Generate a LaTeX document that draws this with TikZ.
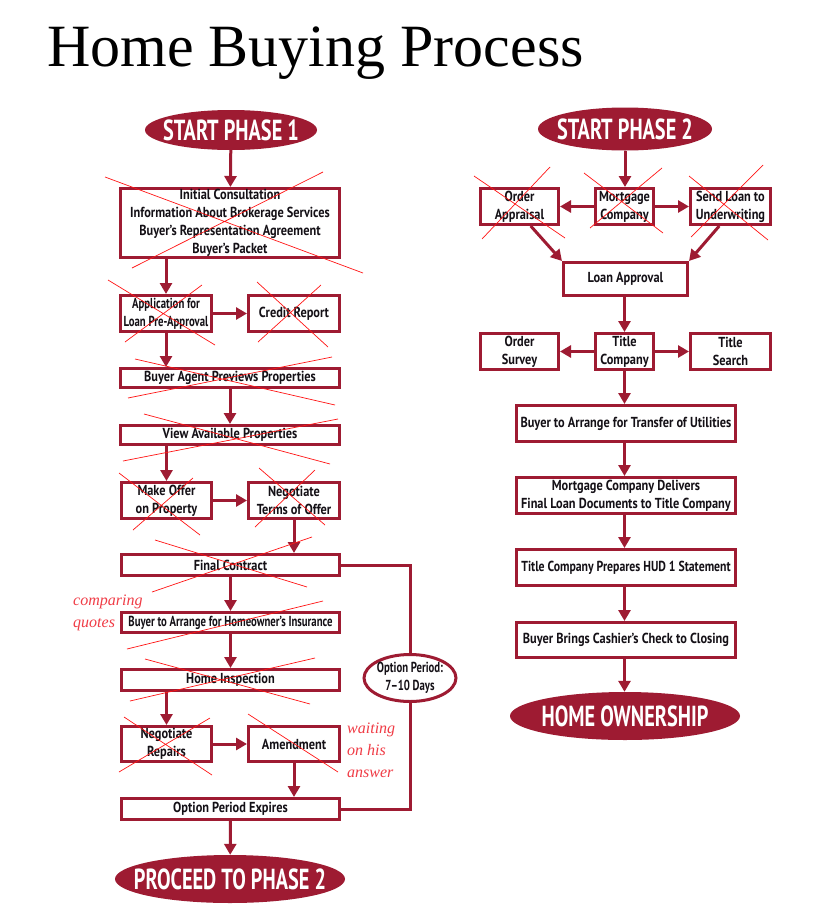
\documentclass[tikz,border=0pt]{standalone}
\usepackage{fontspec}
\setmainfont{Liberation Serif}
\newfontfamily\boxfont[FakeStretch=0.85]{PT Sans}
\newfontfamily\boxfontm[FakeStretch=0.81]{PT Sans}
\newfontfamily\boxfontn[FakeStretch=0.74]{PT Sans}
\newfontfamily\ellfont[FakeStretch=0.7]{PT Sans}
\usetikzlibrary{shapes.geometric,arrows.meta,calc}
\definecolor{brd}{RGB}{158,27,50}
\definecolor{ink}{RGB}{20,16,22}
\definecolor{scrib}{RGB}{255,20,20}
\definecolor{hand}{RGB}{240,60,70}
\begin{document}
\begin{tikzpicture}[x=1pt,y=-1pt,
 bx/.style={draw=brd,line width=3pt,fill=white,inner sep=0pt,align=center,text=ink,font=\boxfont\bfseries\fontsize{14.5}{18}\selectfont},
 bxm/.style={bx,font=\boxfontm\bfseries\fontsize{14.5}{18}\selectfont},
 bxn/.style={bx,font=\boxfontn\bfseries\fontsize{14.5}{18}\selectfont},
 term/.style={ellipse,fill=brd,inner sep=0pt,
   label={[text=white,inner sep=0pt,font=\ellfont\bfseries\fontsize{29}{32}\selectfont]center:#1}},
 oval/.style={ellipse,draw=brd,line width=3pt,fill=white,inner sep=0pt,
   label={[text=ink,inner sep=0pt,align=center,font=\boxfontn\bfseries\fontsize{14.5}{18}\selectfont]center:#1}},
 arr/.style={draw=brd,line width=3pt,-{Triangle[width=12pt,length=11pt]}},
 lnk/.style={draw=brd,line width=3pt},
 cross/.style={draw=scrib,line width=0.7pt},
 note/.style={text=hand,font=\itshape\fontsize{16}{16}\selectfont,anchor=base west,inner sep=0pt}]
\useasboundingbox[fill=white] (0,0) rectangle (832,916);

\node[anchor=base west,inner sep=0pt,font=\fontsize{60}{60}\selectfont] (title) at (47,66) {Home Buying Process};

% ---------- left column ----------
\node[term=START PHASE 1,minimum width=172pt,minimum height=40pt] (s1) at (231,130) {};
\node[bx,minimum width=219pt,minimum height=69pt] (ic) at (230,223) {Initial Consultation\\Information About Brokerage Services\\Buyer’s Representation Agreement\\Buyer’s Packet};
\node[bxn,minimum width=91pt,minimum height=36pt] (app) at (166,313.5) {Application for\\Loan Pre-Approval};
\node[bx,minimum width=91pt,minimum height=36pt] (cr) at (294,313.5) {Credit Report};
\node[bx,minimum width=219pt,minimum height=19pt] (bap) at (230,378) {Buyer Agent Previews Properties};
\node[bx,minimum width=219pt,minimum height=19pt] (vap) at (230,435) {View Available Properties};
\node[bx,minimum width=90pt,minimum height=36pt] (mo) at (166.5,500.5) {Make Offer\\on Property};
\node[bx,minimum width=91pt,minimum height=36pt] (nt) at (294,500.5) {Negotiate\\Terms of Offer};
\node[bx,minimum width=218pt,minimum height=21pt] (fc) at (230.5,565) {Final Contract};
\node[bxn,minimum width=218pt,minimum height=20pt] (bah) at (230.5,622.5) {Buyer to Arrange for Homeowner’s Insurance};
\node[bx,minimum width=218pt,minimum height=21pt] (hi) at (230.5,680) {Home Inspection};
\node[bx,minimum width=90pt,minimum height=35pt] (nr) at (166.5,744) {Negotiate\\Repairs};
\node[bx,minimum width=91pt,minimum height=35pt] (am) at (294,744) {Amendment};
\node[bx,minimum width=218pt,minimum height=21pt] (ope) at (230.5,809) {Option Period Expires};
\node[term=PROCEED TO PHASE 2,minimum width=230pt,minimum height=48pt] (p2) at (230,879) {};
\node[oval={Option Period:\\7–10 Days},minimum width=92pt,minimum height=47pt] (op) at (410,678) {};

\draw[arr] (s1) -- (ic);
\draw[arr] (ic.south -| app) -- (app);
\draw[arr] (app) -- (cr);
\draw[arr] (app) -- (app |- bap.north);
\draw[arr] (bap) -- (vap);
\draw[arr] (vap.south -| mo) -- (mo);
\draw[arr] (mo) -- (nt);
\draw[arr] (nt) -- (nt |- fc.north);
\draw[arr] (fc) -- (bah);
\draw[arr] (bah) -- (hi);
\draw[arr] (hi.south -| nr) -- (nr);
\draw[arr] (nr) -- (am);
\draw[arr] (am) -- (am |- ope.north);
\draw[arr] (ope) -- (p2);
\draw[lnk] (fc.east) -- (fc.east -| op.north) -- (op.north);
\draw[lnk] (op.south) -- (op.south |- ope.east) -- (ope.east);

% ---------- right column ----------
\node[term=START PHASE 2,minimum width=174pt,minimum height=43pt] (s2) at (625,129) {};
\node[bx,minimum width=78pt,minimum height=36pt] (oa) at (519.5,206.5) {Order\\Appraisal};
\node[bx,minimum width=58pt,minimum height=36pt] (mc) at (624.5,206.5) {Mortgage\\Company};
\node[bx,minimum width=80pt,minimum height=36pt] (sl) at (730.5,206.5) {Send Loan to\\Underwriting};
\node[bx,minimum width=124pt,minimum height=33pt] (la) at (625.5,279) {Loan Approval};
\node[bx,minimum width=78pt,minimum height=36pt] (os) at (519.5,351.5) {Order\\Survey};
\node[bx,minimum width=58pt,minimum height=36pt] (tc) at (624.5,351.5) {Title\\Company};
\node[bx,minimum width=80pt,minimum height=36pt] (ts) at (730.5,351.5) {Title\\Search};
\node[bx,minimum width=219pt,minimum height=36pt] (bt) at (626,423.5) {Buyer to Arrange for Transfer of Utilities};
\node[bx,minimum width=219pt,minimum height=36pt] (md) at (626,495.5) {Mortgage Company Delivers\\Final Loan Documents to Title Company};
\node[bxm,minimum width=219pt,minimum height=36pt] (hud) at (626,567.5) {Title Company Prepares HUD 1 Statement};
\node[bx,minimum width=219pt,minimum height=35pt] (bb) at (626,640) {Buyer Brings Cashier’s Check to Closing};
\node[term=HOME OWNERSHIP,minimum width=230pt,minimum height=48pt] (ho) at (625,716) {};

\draw[arr] (s2) -- (s2 |- mc.north);
\draw[arr] (mc) -- (oa);
\draw[arr] (mc) -- (sl);
\draw[arr] (oa.-60) -- (la.north west);
\draw[arr] (sl.-120) -- (la.north east);
\draw[arr] (la.south -| tc) -- (tc);
\draw[arr] (tc) -- (os);
\draw[arr] (tc) -- (ts);
\draw[arr] (tc) -- (tc |- bt.north);
\draw[arr] (bt.south -| tc) -- (tc |- md.north);
\draw[arr] (md.south -| tc) -- (tc |- hud.north);
\draw[arr] (hud.south -| tc) -- (tc |- bb.north);
\draw[arr] (bb.south -| tc) -- (tc |- ho.north);

% ---------- handwritten notes ----------
\node[note] (n1) at (73,605) {comparing};
\node[note] (n2) at (73,627) {quotes};
\node[note] (n3) at (347,733) {waiting};
\node[note] (n4) at (347,755) {on his};
\node[note] (n5) at (347,777) {answer};

% ---------- scribbled crosses ----------
\draw[cross] (105,177) -- (363,273) (323,172) -- (132,268);
\draw[cross] (108,280) -- (215,345) (202,285) -- (125,342);
\draw[cross] (257,282) -- (328,347) (321,285) -- (258,342);
\draw[cross] (135,359) -- (335,405) (332,357) -- (128,398);
\draw[cross] (144,414) -- (330,464) (338,419) -- (123,461);
\draw[cross] (119,473) -- (200,535) (193,478) -- (133,530);
\draw[cross] (259,468) -- (325,525) (315,470) -- (255,527);
\draw[cross] (155,540) -- (307,587) (312,537) -- (152,592);
\draw[cross] (323,601) -- (127,649);
\draw[cross] (145,659) -- (310,704) (315,658) -- (130,701);
\draw[cross] (124,717) -- (212,775) (210,718) -- (119,772);
\draw[cross] (248,714) -- (338,772);
\draw[cross] (474,176) -- (565,238) (550,167) -- (482,239);
\draw[cross] (584,173) -- (663,233) (662,168) -- (590,228);
\draw[cross] (689,176) -- (768,240) (763,165) -- (691,237);
\end{tikzpicture}
\end{document}
